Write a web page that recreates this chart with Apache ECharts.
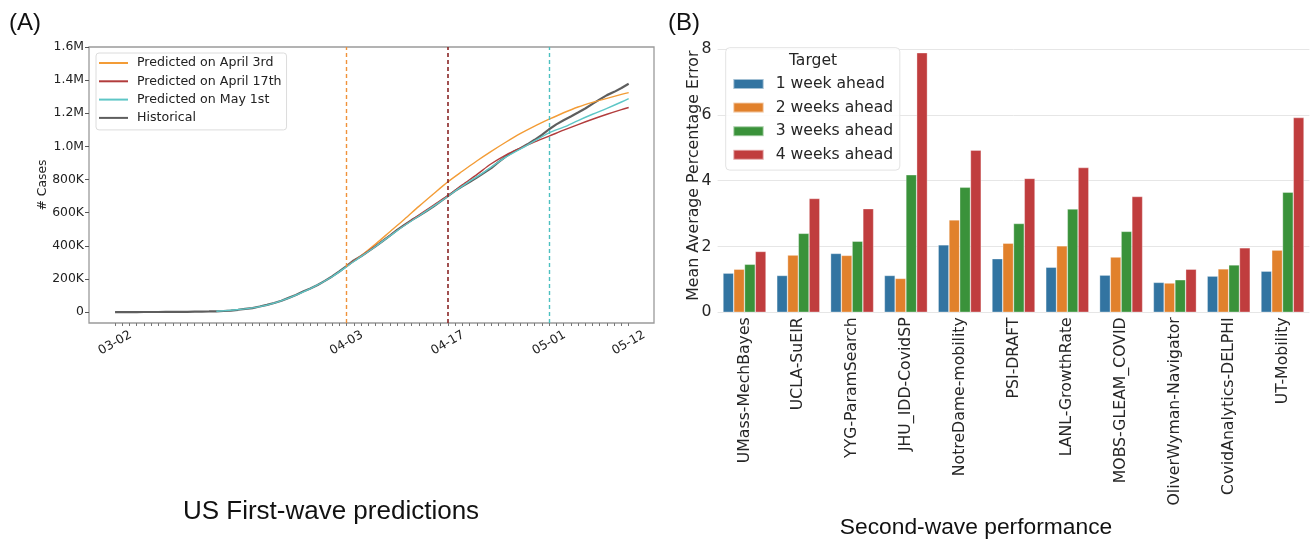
<!DOCTYPE html>
<html><head><meta charset="utf-8">
<script src="https://cdn.jsdelivr.net/npm/echarts@6/dist/echarts.min.js"></script>
<style>html,body{margin:0;padding:0;background:#fff}#c{width:1312px;height:539px}</style>
</head><body><div id="c"></div>
<script>
// ---------- Panel A data (day 0 = 03-02) ----------
const historical = [100,124,158,221,319,435,541,704,994,1301,1630,2183,2770,3613,4596,6344,9197,13779,19367,24192,33592,43781,54856,68211,85570,102900,123800,142700,163500,188200,
215000,244900,277000,311400,336800,366600,396300,429000,461400,496500,526400,555300,580600,607700,636400,667800,699700,732200,759100,784300,811900,840400,869200,905400,938200,965800,988200,1012600,1039900,1069400,
1103500,1133000,1158300,1180600,1204400,1228600,1256900,1283900,1309500,1329300,1352900,1378400];
const predApr3 = [[32,277000],[34,340000],[36,410000],[38,485000],[40,560000],[42,638000],[44,713000],[46,786000],[48,850000],[50,912000],[52,970000],[54,1025000],[56,1077000],[58,1123000],[60,1164000],[62,1203000],[64,1238000],[66,1266000],[68,1290000],[70,1314000],[71,1325000]];
const predApr17 = [[32,277000],[35,368000],[38,462000],[41,555000],[44,645000],[46,703000],[48,768000],[50,830000],[52,895000],[54,948000],[56,990000],[58,1027000],[60,1062000],[62,1098000],[64,1132000],[66,1164000],[68,1194000],[70,1222000],[71,1235000]];
const predMay1 = [[14,4600],[18,19000],[21,42000],[24,84000],[27,141000],[30,213000],[33,305000],[36,396000],[39,492000],[42,580000],[45,668000],[48,760000],[51,845000],[54,935000],[57,1008000],[60,1082000],[62,1116000],[64,1156000],[66,1194000],[68,1230000],[70,1268000],[71,1289000]];
const vlineDays = [32,46,60];
const xTickDays = [0,32,46,60,71];
const xTickLabels = ['03-02','04-03','04-17','05-01','05-12'];
const yTicksA = [0,200000,400000,600000,800000,1000000,1200000,1400000,1600000];
const yTickLabelsA = ['0','200K','400K','600K','800K','1.0M','1.2M','1.4M','1.6M'];
const seriesNamesA = ['Predicted on April 3rd','Predicted on April 17th','Predicted on May 1st','Historical'];

// ---------- Panel B data ----------
const models = ['UMass-MechBayes','UCLA-SuEIR','YYG-ParamSearch','JHU_IDD-CovidSP','NotreDame-mobility','PSI-DRAFT','LANL-GrowthRate','MOBS-GLEAM_COVID','OliverWyman-Navigator','CovidAnalytics-DELPHI','UT-Mobility'];
const week1 = [1.19,1.12,1.79,1.12,2.05,1.63,1.37,1.13,0.91,1.10,1.25];
const week2 = [1.31,1.74,1.73,1.03,2.81,2.10,2.02,1.68,0.89,1.32,1.89];
const week3 = [1.46,2.40,2.16,4.18,3.80,2.70,3.14,2.46,0.99,1.44,3.65];
const week4 = [1.85,3.46,3.15,7.89,4.93,4.07,4.40,3.52,1.31,1.96,5.92];
const targetNames = ['1 week ahead','2 weeks ahead','3 weeks ahead','4 weeks ahead'];
const barColors = ['#3274A1','#E1812C','#3A923A','#C03D3E'];

const dailyTicks = [];
for (let d = 0; d <= 71; d++) dailyTicks.push(d);

const fontA = 'DejaVu Sans';
const chart = echarts.init(document.getElementById('c'), null, {renderer:'canvas'});
const lineColors = ['#f39c36','#b23c3c','#5ec6c6','#4d4d4d'];
const vlineColors = ['#f0923a','#8a2626','#4cc0c0'];

const option = {
  backgroundColor:'#fff',
  animation:false,
  title:[
    {text:'(A)', left:9, top:11, padding:0, textStyle:{fontFamily:'Liberation Sans', fontSize:24, fontWeight:'normal', color:'#111'}},
    {text:'(B)', left:668, top:11, padding:0, textStyle:{fontFamily:'Liberation Sans', fontSize:24, fontWeight:'normal', color:'#111'}},
    {text:'US First-wave predictions', left:331, top:499, padding:0, textAlign:'center', textStyle:{fontFamily:'Liberation Sans', fontSize:26, fontWeight:'normal', color:'#111'}},
    {text:'Second-wave performance', left:976, top:516, padding:0, textAlign:'center', textStyle:{fontFamily:'Liberation Sans', fontSize:22.8, fontWeight:'normal', color:'#111'}},
    {text:'Target', left:813, top:53, padding:0, textAlign:'center', textStyle:{fontFamily:fontA, fontSize:15.6, fontWeight:'normal', color:'#262626'}}
  ],
  legend:[
    {data:seriesNamesA, orient:'vertical', left:96, top:53, padding:[3,5,5,2], itemWidth:29, itemHeight:14, itemGap:4.3,
     itemStyle:{opacity:0},
     backgroundColor:'rgba(255,255,255,0.85)', borderColor:'#dcdcdc', borderWidth:1, borderRadius:3,
     textStyle:{fontFamily:fontA, fontSize:12.6, lineHeight:14, color:'#222', padding:[0,0,0,4]}},
    {data:targetNames, orient:'vertical', left:725.7, top:47.7, padding:[27.3,6.7,6.3,6.6], itemWidth:30.4, itemHeight:10, itemGap:5.6, icon:'rect',
     backgroundColor:'rgba(255,255,255,0.85)', borderColor:'#e3e3e3', borderWidth:1, borderRadius:4,
     textStyle:{fontFamily:fontA, fontSize:15.6, lineHeight:18, color:'#262626', padding:[0,0,0,7]}}
  ],
  grid:[
    {left:89, right:658, top:47, bottom:216, show:true, borderColor:'#9a9a9a', borderWidth:1.3, backgroundColor:'transparent'},
    {left:717.6, right:2.6, top:49.1, bottom:226.7}
  ],
  xAxis:[
    {type:'value', gridIndex:0, min:-3.6, max:74.5,
     axisLine:{show:false, onZero:false}, splitLine:{show:false},
     axisTick:{show:true, customValues:dailyTicks, length:3, lineStyle:{color:'#777'}},
     axisLabel:{customValues:xTickDays, rotate:30, align:'center', verticalAlign:'middle', margin:20,
       fontFamily:fontA, fontSize:12.4, color:'#222',
       formatter:v=>{const i=xTickDays.indexOf(Math.round(v)); return i>=0?xTickLabels[i]:'';}}},
    {type:'category', gridIndex:1, data:models,
     axisLine:{show:false}, axisTick:{show:false},
     axisLabel:{rotate:90, interval:0, margin:5, fontFamily:fontA, fontSize:15.7, color:'#262626'}}
  ],
  yAxis:[
    {type:'value', gridIndex:0, min:-66000, max:1600000,
     name:'# Cases', nameLocation:'middle', nameGap:40, nameMoveOverlap:false,
     nameTextStyle:{fontFamily:fontA, fontSize:12.4, color:'#222'},
     axisLine:{show:false, onZero:false}, splitLine:{show:false},
     axisTick:{show:true, customValues:yTicksA, length:4, lineStyle:{color:'#555'}},
     axisLabel:{customValues:yTicksA, margin:5, fontFamily:fontA, fontSize:12.4, color:'#222',
       formatter:v=>{const i=yTicksA.indexOf(v); return i>=0?yTickLabelsA[i]:'';}}},
    {type:'value', gridIndex:1, min:0, max:8, interval:2,
     name:'Mean Average Percentage Error', nameLocation:'middle', nameGap:16, nameMoveOverlap:false,
     nameTextStyle:{fontFamily:fontA, fontSize:15.8, color:'#262626', padding:[0,0,0,10]},
     axisLine:{show:false}, axisTick:{show:false},
     splitLine:{lineStyle:{color:'#e6e6e6', width:1}},
     axisLabel:{margin:6, fontFamily:fontA, fontSize:15.7, color:'#262626'}}
  ],
  series:[
    {name:seriesNamesA[0], type:'line', xAxisIndex:0, yAxisIndex:0, data:predApr3, symbol:'none', smooth:0.3,
     lineStyle:{color:lineColors[0], width:1.4}, itemStyle:{color:lineColors[0]}, z:3,
     markLine:{silent:true, symbol:'none', label:{show:false}, data:[{xAxis:vlineDays[0]}], lineStyle:{color:vlineColors[0], type:[4,3], width:1.4}}},
    {name:seriesNamesA[1], type:'line', xAxisIndex:0, yAxisIndex:0, data:predApr17, symbol:'none', smooth:0.3,
     lineStyle:{color:lineColors[1], width:1.4}, itemStyle:{color:lineColors[1]}, z:3,
     markLine:{silent:true, symbol:'none', label:{show:false}, data:[{xAxis:vlineDays[1]}], lineStyle:{color:vlineColors[1], type:[4,3], width:1.6}}},
    {name:seriesNamesA[2], type:'line', xAxisIndex:0, yAxisIndex:0, data:predMay1, symbol:'none', smooth:0.3,
     lineStyle:{color:lineColors[2], width:1.4}, itemStyle:{color:lineColors[2]}, z:3,
     markLine:{silent:true, symbol:'none', label:{show:false}, data:[{xAxis:vlineDays[2]}], lineStyle:{color:vlineColors[2], type:[4,3], width:1.4}}},
    {name:seriesNamesA[3], type:'line', xAxisIndex:0, yAxisIndex:0, data:historical.map((v,i)=>[i,v]), symbol:'none',
     lineStyle:{color:lineColors[3], width:2.2, opacity:0.9}, itemStyle:{color:lineColors[3]}, z:2},
    ...[week1,week2,week3,week4].map((vals,k)=>({
      name:targetNames[k], type:'bar', xAxisIndex:1, yAxisIndex:1, data:vals,
      barGap:'0%', barCategoryGap:'20%',
      itemStyle:{color:barColors[k], borderColor:'rgba(255,255,255,0.55)', borderWidth:0.6}
    }))
  ]
};
chart.setOption(option);
</script></body></html>
